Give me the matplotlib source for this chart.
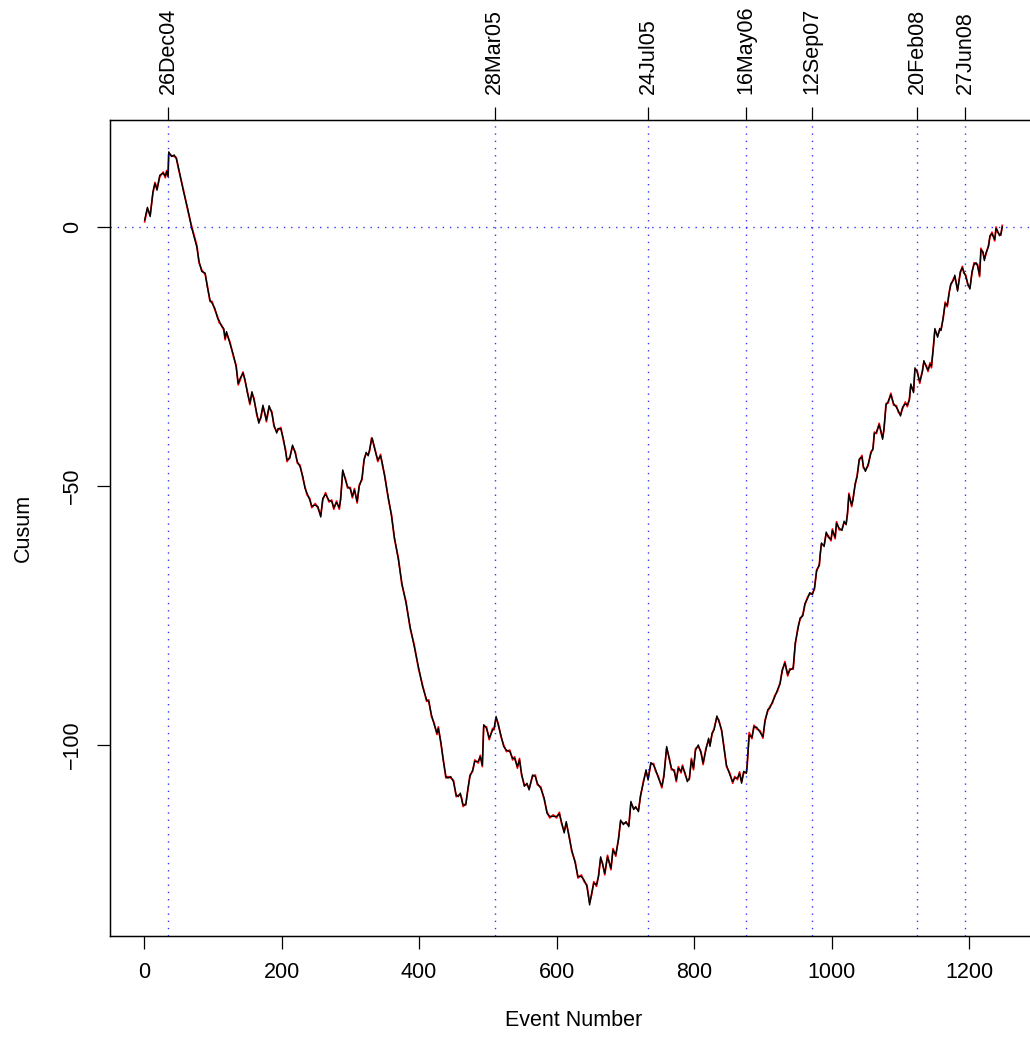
import matplotlib
matplotlib.use('Agg')
import matplotlib.pyplot as plt

events = [
    1, 5, 9, 13, 16, 19, 23, 28, 31, 33,
    35, 36, 40, 44, 47, 50, 57, 64, 69, 77,
    80, 84, 89, 92, 96, 99, 103, 107, 109, 113,
    116, 118, 120, 125, 130, 134, 137, 140, 144, 147,
    150, 154, 157, 160, 164, 167, 170, 173, 176, 178,
    182, 186, 189, 193, 195, 199, 203, 206, 208, 212,
    216, 220, 223, 227, 231, 234, 237, 241, 244, 249,
    253, 257, 260, 264, 269, 273, 276, 280, 284, 286,
    289, 293, 296, 300, 303, 306, 310, 313, 317, 320,
    323, 326, 328, 331, 332, 336, 340, 344, 347, 350,
    355, 360, 364, 370, 375, 381, 387, 393, 399, 405,
    411, 414, 418, 422, 426, 428, 432, 435, 439, 442,
    446, 450, 454, 457, 460, 462, 464, 468, 471, 474,
    478, 481, 486, 489, 492, 494, 498, 502, 507, 509,
    512, 515, 519, 523, 527, 532, 536, 539, 543, 546,
    549, 553, 557, 560, 565, 569, 572, 577, 582, 586,
    590, 595, 600, 604, 607, 611, 614, 618, 622, 627,
    631, 636, 640, 644, 648, 651, 654, 658, 661, 664,
    667, 670, 674, 679, 682, 686, 690, 693, 697, 701,
    705, 708, 712, 715, 719, 722, 726, 730, 733, 737,
    741, 744, 748, 753, 756, 760, 764, 767, 771, 774,
    777, 781, 783, 787, 790, 793, 796, 799, 802, 806,
    810, 813, 817, 821, 823, 826, 829, 833, 836, 840,
    843, 847, 852, 856, 859, 863, 866, 869, 872, 876,
    877, 880, 884, 887, 891, 896, 900, 903, 907, 910,
    914, 917, 921, 925, 928, 932, 936, 939, 944, 947,
    951, 954, 958, 961, 965, 968, 972, 975, 978, 982,
    983, 985, 989, 992, 995, 999, 1001, 1005, 1007, 1011,
    1015, 1018, 1021, 1023, 1025, 1029, 1031, 1034, 1037, 1040,
    1044, 1046, 1049, 1053, 1057, 1060, 1062, 1065, 1069, 1072,
    1074, 1076, 1079, 1082, 1086, 1090, 1094, 1097, 1100, 1103,
    1107, 1110, 1113, 1115, 1119, 1121, 1124, 1128, 1132, 1134,
    1138, 1140, 1143, 1145, 1148, 1150, 1154, 1157, 1159, 1162,
    1165, 1168, 1171, 1173, 1177, 1179, 1183, 1187, 1190, 1192,
    1195, 1198, 1201, 1204, 1207, 1210, 1212, 1215, 1217, 1220,
    1222, 1224, 1228, 1230, 1233, 1237, 1239, 1241, 1244, 1246, 1248,
]

cusum_black = [
    1.35, 3.8, 2.0, 6.8, 8.4, 7.1, 10.0, 10.4, 9.8, 10.7,
    9.7, 14.5, 13.6, 13.9, 13.2, 11.6, 7.1, 3.3, 0.0, -4.0,
    -6.6, -8.6, -8.9, -11.5, -14.1, -14.7, -15.7, -17.6, -18.0, -19.2,
    -19.6, -21.5, -20.2, -22.5, -24.7, -27.0, -30.2, -29.2, -28.2, -29.5,
    -31.8, -34.0, -31.8, -33.4, -36.0, -37.9, -36.6, -34.4, -36.3, -37.3,
    -34.5, -36.0, -38.2, -39.8, -38.9, -39.0, -41.1, -43.4, -45.0, -44.7,
    -42.1, -43.7, -45.3, -46.3, -48.2, -50.4, -51.4, -52.7, -53.9, -53.7,
    -54.0, -56.0, -52.4, -51.6, -52.8, -53.0, -54.2, -53.2, -54.2, -52.6,
    -46.9, -48.9, -50.1, -50.6, -52.0, -50.8, -53.0, -50.1, -48.5, -45.1,
    -43.5, -44.2, -43.0, -41.0, -40.8, -43.2, -45.0, -44.2, -45.9, -48.2,
    -52.0, -55.9, -59.8, -64.3, -68.8, -72.6, -77.2, -81.0, -84.9, -88.7,
    -91.3, -91.6, -94.2, -96.1, -97.7, -96.8, -99.7, -102.9, -106.1, -106.4,
    -106.1, -107.1, -109.7, -110.0, -109.3, -110.6, -111.6, -111.6, -108.4, -106.1,
    -104.8, -103.2, -103.2, -102.3, -103.9, -96.1, -96.8, -98.7, -97.1, -96.8,
    -94.5, -96.1, -98.1, -100.3, -101.0, -101.3, -102.6, -102.6, -104.2, -102.9,
    -105.5, -108.0, -107.4, -108.7, -105.8, -106.1, -107.4, -108.4, -110.3, -113.2,
    -113.8, -113.8, -113.8, -113.3, -114.8, -117.0, -114.8, -117.7, -120.3, -122.8,
    -125.4, -125.4, -126.1, -127.3, -130.9, -128.6, -126.7, -127.0, -125.4, -121.6,
    -123.2, -124.8, -121.6, -123.8, -120.3, -121.2, -118.3, -114.5, -115.4, -114.8,
    -115.8, -110.9, -112.5, -111.9, -112.9, -109.7, -107.4, -104.8, -106.8, -103.4,
    -103.9, -104.8, -106.4, -108.0, -106.1, -100.3, -102.9, -104.5, -105.1, -106.8,
    -104.5, -105.1, -104.2, -105.5, -107.1, -106.4, -102.9, -104.5, -101.0, -100.0,
    -101.6, -103.5, -101.0, -98.7, -100.3, -97.7, -97.1, -94.4, -95.5, -97.1,
    -100.3, -103.9, -105.8, -107.1, -106.4, -106.4, -105.5, -107.4, -105.1, -105.5,
    -103.9, -98.1, -98.5, -96.5, -96.6, -97.6, -98.4, -95.5, -93.2, -92.9,
    -91.6, -90.8, -89.4, -88.2, -85.5, -84.2, -86.4, -85.6, -85.1, -80.3,
    -77.5, -75.5, -75.1, -72.7, -71.7, -70.6, -71.0, -69.6, -66.5, -65.1,
    -63.7, -61.0, -61.7, -58.9, -59.9, -60.3, -58.6, -59.9, -57.2, -58.2,
    -58.6, -56.8, -57.5, -55.1, -51.7, -53.7, -52.7, -49.6, -48.2, -44.8,
    -44.4, -46.2, -47.2, -45.8, -43.7, -42.7, -39.9, -39.6, -38.2, -39.6,
    -41.0, -38.9, -34.4, -33.7, -32.4, -34.1, -34.8, -35.5, -36.5, -34.8,
    -34.1, -34.4, -33.4, -30.3, -32.0, -27.2, -27.9, -29.9, -27.9, -25.8,
    -27.2, -27.6, -26.5, -26.9, -23.0, -19.6, -21.3, -19.6, -20.0, -17.5,
    -14.8, -15.1, -12.7, -11.0, -10.3, -9.3, -12.4, -8.6, -7.9, -8.6,
    -9.6, -11.0, -12.0, -8.6, -7.2, -6.9, -7.5, -9.3, -4.4, -4.8,
    -6.5, -5.1, -3.8, -1.7, -1.3, -2.4, -0.3, -0.7, -1.7, -1.3, 0.0,
]

cusum_red = [
    1.0, 3.5, 2.3, 6.5, 8.6, 7.4, 9.7, 10.6, 9.5, 10.9,
    9.9, 14.2, 13.8, 13.6, 13.4, 11.3, 7.4, 3.0, 0.3, -3.6,
    -6.9, -8.3, -9.2, -11.2, -14.4, -14.4, -16.0, -17.3, -18.4, -19.0,
    -19.9, -21.8, -20.5, -22.2, -25.0, -26.7, -30.5, -29.5, -28.0, -29.8,
    -31.5, -34.3, -32.1, -33.1, -36.3, -37.6, -36.9, -34.7, -36.0, -37.6,
    -34.8, -35.7, -38.5, -39.5, -39.2, -38.7, -41.4, -43.1, -45.3, -44.4,
    -42.4, -43.4, -45.6, -46.0, -48.5, -50.1, -51.7, -52.4, -54.2, -53.4,
    -54.3, -55.7, -52.7, -51.3, -53.1, -52.7, -54.5, -52.9, -54.5, -52.3,
    -47.2, -48.6, -50.4, -50.3, -52.3, -50.5, -53.3, -49.8, -48.8, -44.8,
    -43.8, -43.9, -43.3, -40.7, -41.1, -42.9, -45.3, -43.9, -46.2, -47.9,
    -52.3, -55.6, -60.1, -64.0, -69.1, -72.3, -77.5, -80.7, -85.2, -88.4,
    -91.6, -91.3, -94.5, -95.8, -98.0, -96.5, -100.0, -102.6, -106.4, -106.1,
    -106.4, -106.8, -110.0, -109.7, -109.6, -110.3, -111.9, -111.3, -108.7, -105.8,
    -105.1, -102.9, -103.5, -102.0, -104.2, -96.4, -96.5, -99.0, -96.8, -97.1,
    -94.8, -95.8, -98.4, -100.0, -101.3, -101.0, -102.9, -102.3, -104.5, -102.6,
    -105.8, -107.7, -107.7, -108.4, -106.1, -105.8, -107.7, -108.1, -110.6, -112.9,
    -114.1, -113.5, -114.1, -113.0, -115.1, -116.7, -115.1, -117.4, -120.6, -122.5,
    -125.7, -125.1, -126.4, -127.0, -130.4, -128.9, -126.4, -127.3, -125.1, -121.9,
    -122.9, -125.1, -121.3, -124.1, -120.0, -121.5, -118.0, -114.8, -115.1, -115.1,
    -115.5, -111.2, -112.2, -112.2, -112.6, -110.0, -107.1, -105.1, -106.5, -103.7,
    -103.6, -105.1, -106.1, -108.3, -105.8, -100.6, -102.6, -104.8, -104.8, -107.1,
    -104.2, -105.4, -103.9, -105.8, -106.8, -106.7, -102.6, -104.8, -100.7, -100.3,
    -101.3, -103.8, -100.7, -99.0, -100.0, -98.0, -96.8, -94.7, -95.2, -97.4,
    -100.0, -104.2, -105.5, -107.4, -106.1, -106.7, -105.2, -107.1, -105.4, -105.2,
    -104.2, -97.6, -98.8, -96.2, -96.9, -97.3, -98.7, -95.2, -93.5, -92.6,
    -91.9, -90.5, -89.7, -87.9, -85.8, -83.9, -86.7, -85.3, -85.4, -80.6,
    -77.2, -75.8, -74.8, -73.0, -71.4, -70.9, -70.7, -69.9, -66.2, -65.4,
    -63.4, -61.3, -61.4, -59.2, -59.6, -60.6, -58.3, -60.2, -56.9, -58.5,
    -58.3, -57.1, -57.2, -55.4, -51.4, -54.0, -52.4, -49.9, -47.9, -45.1,
    -44.1, -46.5, -46.9, -46.1, -43.4, -43.0, -39.6, -39.9, -37.9, -39.9,
    -40.7, -39.2, -34.1, -34.0, -32.1, -34.4, -34.5, -35.8, -36.2, -35.1,
    -33.8, -34.7, -33.1, -30.6, -31.7, -27.5, -27.6, -30.2, -27.6, -26.1,
    -26.9, -27.9, -26.2, -27.2, -22.7, -19.9, -21.0, -19.9, -19.7, -17.8,
    -14.5, -15.4, -12.4, -11.3, -10.0, -9.6, -12.1, -8.9, -7.6, -8.9,
    -9.3, -11.3, -11.7, -8.9, -6.9, -7.2, -7.2, -9.6, -4.1, -5.1,
    -6.2, -5.4, -3.5, -2.0, -1.0, -2.7, 0.0, -1.0, -1.4, -1.6, 0.3,
]

# change points marked along the top
date_events = [35, 510, 733, 875, 971, 1124, 1194]
date_labels = ['26Dec04', '28Mar05', '24Jul05', '16May06', '12Sep07', '20Feb08', '27Jun08']

x_ticks = [0, 200, 400, 600, 800, 1000, 1200]
y_ticks = [-100, -50, 0]

plt.rcParams['font.family'] = ['Liberation Sans', 'DejaVu Sans']
plt.rcParams['font.size'] = 15.5

fig = plt.figure(figsize=(10.30, 10.39), dpi=100)
ax = fig.add_axes([0.1068, 0.0996, 0.901, 0.7849])

ax.plot(events, cusum_red, color='red', lw=1.25)
ax.plot(events, cusum_black, color='black', lw=1.0)

dots = (0, (1.0, 4.2))
for e in date_events:
    ax.axvline(e, color='#0000ff', lw=1.0, linestyle=dots, alpha=0.8)
ax.axhline(0, color='#0000ff', lw=1.0, linestyle=dots, alpha=0.8)

ax.set_xlim(-49.4, 1300)
ax.set_ylim(-136.8, 20.65)

ax.set_xticks(x_ticks)
ax.set_yticks(y_ticks)
ax.set_yticklabels([str(v).replace('-', '\u2212') for v in y_ticks], rotation=90, va='center')
ax.tick_params(axis='both', direction='out', length=9.4, width=0.9, pad=10)

ax.set_xlabel('Event Number', labelpad=19)
ax.set_ylabel('Cusum', labelpad=20)

for s in ax.spines.values():
    s.set_linewidth(1.0)

top = ax.twiny()
top.set_xlim(ax.get_xlim())
top.set_xticks(date_events)
top.set_xticklabels(date_labels, rotation=90)
top.tick_params(axis='x', direction='out', length=9.4, width=0.9, pad=9)

fig.savefig('out.png', dpi=100)
